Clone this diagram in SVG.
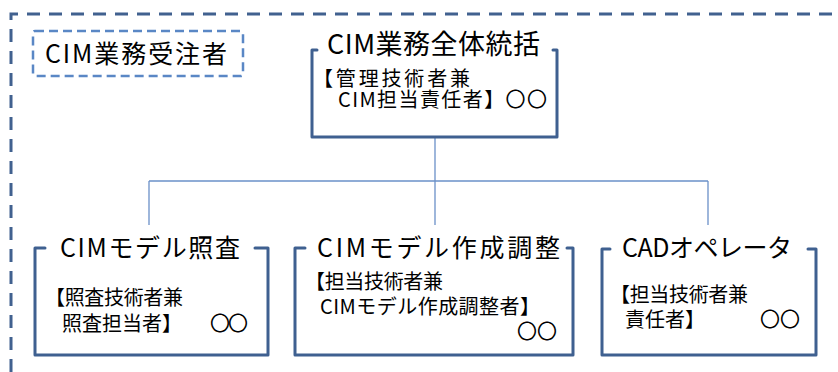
<svg xmlns="http://www.w3.org/2000/svg" width="838" height="372" viewBox="0 0 838 372">
<style>
  text { font-family: "Noto Sans CJK JP", "Noto Sans", sans-serif; fill: #000; }
  .frame { fill: none; stroke: #3f6090; stroke-width: 3; stroke-linejoin: round; stroke-linecap: round; }
  .conn { fill: none; stroke: #6a90c8; stroke-width: 1.3; }
  .title { font-size: 25px; }
  .body { font-size: 20px; }
</style>
<rect width="838" height="372" fill="#ffffff"/>
<g id="outer">
  <path d="M 11 372 V 14 H 850" fill="none" stroke="#41618f" stroke-width="3" stroke-dasharray="13 9"/>
</g>
<g id="contractor">
  <rect x="33" y="31" width="210" height="45" rx="2" fill="none" stroke="#5a87c5" stroke-width="2.5" stroke-dasharray="9 5"/>
  <text x="45" y="63" font-size="25" textLength="182">CIM業務受注者</text>
</g>
<g id="connectors">
  <path class="conn" d="M 435 137 V 225"/>
  <path class="conn" d="M 149 181 H 708"/>
  <path class="conn" d="M 149 181 V 225"/>
  <path class="conn" d="M 708 181 V 225"/>
</g>
<g id="top-node">
  <path class="frame" d="M 317 50 H 312 V 137 H 557 V 50 H 553"/>
  <text x="327" y="54" font-size="27" textLength="213">CIM業務全体統括</text>
  <text class="body" x="313" y="86" textLength="157">【管理技術者兼</text>
  <text class="body" x="338" y="107" textLength="209">CIM担当責任者】〇〇</text>
</g>
<g id="node-check">
  <path class="frame" d="M 45 248 H 35 V 355 H 268 V 248 H 255"/>
  <text class="title" x="60" y="257" textLength="180">CIMモデル照査</text>
  <text class="body" x="45" y="305" textLength="138">【照査技術者兼</text>
  <text class="body" x="62" y="331">照査担当者】</text>
  <text class="body" x="210" y="331" textLength="38">〇〇</text>
</g>
<g id="node-model">
  <path class="frame" d="M 305 248 H 295 V 355 H 573 V 248 H 567"/>
  <text class="title" x="317" y="257" textLength="243">CIMモデル作成調整</text>
  <text class="body" x="305" y="289" textLength="138">【担当技術者兼</text>
  <text class="body" x="320" y="314" textLength="220">CIMモデル作成調整者】</text>
  <text class="body" x="517" y="339" textLength="40">〇〇</text>
</g>
<g id="node-cad">
  <path class="frame" d="M 610 249 H 602 V 355 H 816 V 249 H 808"/>
  <text class="title" x="622" y="257" textLength="170">CADオペレータ</text>
  <text class="body" x="610" y="302" textLength="138">【担当技術者兼</text>
  <text class="body" x="625" y="327">責任者】</text>
  <text class="body" x="760" y="327" textLength="40">〇〇</text>
</g>
</svg>
